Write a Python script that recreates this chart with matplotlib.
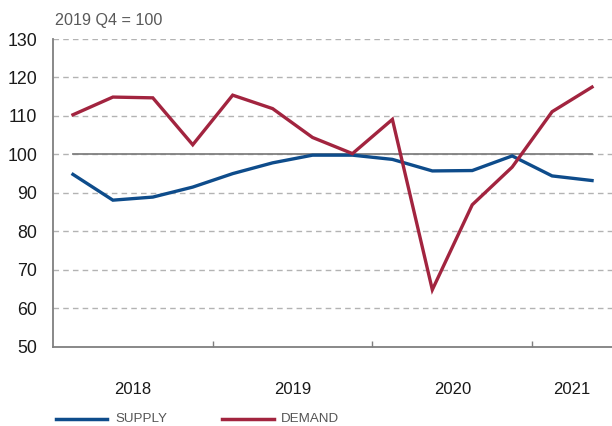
import matplotlib
matplotlib.use("Agg")
import matplotlib.pyplot as plt
from matplotlib.lines import Line2D
import numpy as np

quarters = ["2018Q1", "2018Q2", "2018Q3", "2018Q4",
            "2019Q1", "2019Q2", "2019Q3", "2019Q4",
            "2020Q1", "2020Q2", "2020Q3", "2020Q4",
            "2021Q1", "2021Q2"]
supply = [94.8, 88.1, 88.9, 91.5, 95.0, 97.8, 99.8, 99.8,
          98.7, 95.7, 95.8, 99.6, 94.4, 93.2]
demand = [110.3, 114.9, 114.7, 102.5, 115.4, 111.9, 104.4, 100.2,
          109.1, 64.8, 86.9, 96.7, 111.1, 117.5]
years = ["2018", "2019", "2020", "2021"]
y_ticks = [50, 60, 70, 80, 90, 100, 110, 120, 130]
baseline = 100

BLUE = "#0E4C8B"
RED = "#A2243F"
GRID = "#b3b3b3"
SPINE = "#7f7f7f"

fig = plt.figure(figsize=(6.12, 4.26), dpi=100)
ax = fig.add_axes([53/612, 1 - 346.7/426, (612-53)/612, (346.7-39)/426])

x = np.arange(len(quarters))
year_of = [q[:4] for q in quarters]
year_centers = [np.mean([i for i, y in enumerate(year_of) if y == yr]) for yr in years]
year_bounds = [i - 0.5 for i in range(1, len(quarters)) if year_of[i] != year_of[i-1]]

# gridlines
for yv in y_ticks[1:]:
    ax.axhline(yv, color=GRID, lw=1.0, ls=(0, (4, 3)), zorder=1)
# baseline solid from first to last point
ax.plot([x[0], x[-1]], [baseline, baseline], color="#808080", lw=1.3, zorder=2)

ax.plot(x, supply, color=BLUE, lw=2.4, zorder=3, solid_joinstyle="miter")
ax.plot(x, demand, color=RED, lw=2.4, zorder=4, solid_joinstyle="miter")

ax.set_xlim(-0.5, len(quarters) - 0.5)
ax.set_ylim(50, 130)

for s in ["top", "right"]:
    ax.spines[s].set_visible(False)
for s in ["left", "bottom"]:
    ax.spines[s].set_color(SPINE)
    ax.spines[s].set_linewidth(1.3)

ax.set_yticks(y_ticks)
ax.set_yticklabels([str(v) for v in y_ticks], fontsize=12.8,
                   family=["Liberation Sans", "DejaVu Sans"], color="#1a1a1a")
ax.tick_params(axis="y", length=0, pad=11.5)

ax.set_xticks(year_bounds)
ax.set_xticklabels([])
ax.tick_params(axis="x", which="major", direction="in", length=4, width=1, color=SPINE)
ax.set_xticks(year_centers, minor=True)
ax.set_xticklabels(years, minor=True, fontsize=12,
                   family=["Liberation Sans", "DejaVu Sans"], color="#1a1a1a")
ax.tick_params(axis="x", which="minor", length=0, pad=25.5)

fig.text(55/612, 1 - 20/426, "2019 Q4 = 100", fontsize=11.6, color="#595959",
         family=["Liberation Sans", "DejaVu Sans"], va="center", ha="left")

# legend
ly = 1 - 418.7/426
fig.add_artist(Line2D([56/612, 107.5/612], [ly, ly], color=BLUE, lw=2.5,
                      transform=fig.transFigure))
fig.add_artist(Line2D([222/612, 274/612], [ly, ly], color=RED, lw=2.5,
                      transform=fig.transFigure))
lfam = ["Liberation Sans Narrow", "Liberation Sans", "DejaVu Sans"]
fig.text(115.5/612, ly, "SUPPLY", fontsize=9.6, color="#555555", family=lfam,
         va="center", ha="left")
fig.text(281/612, ly, "DEMAND", fontsize=9.6, color="#555555", family=lfam,
         va="center", ha="left")

fig.savefig("out.png", dpi=100)
